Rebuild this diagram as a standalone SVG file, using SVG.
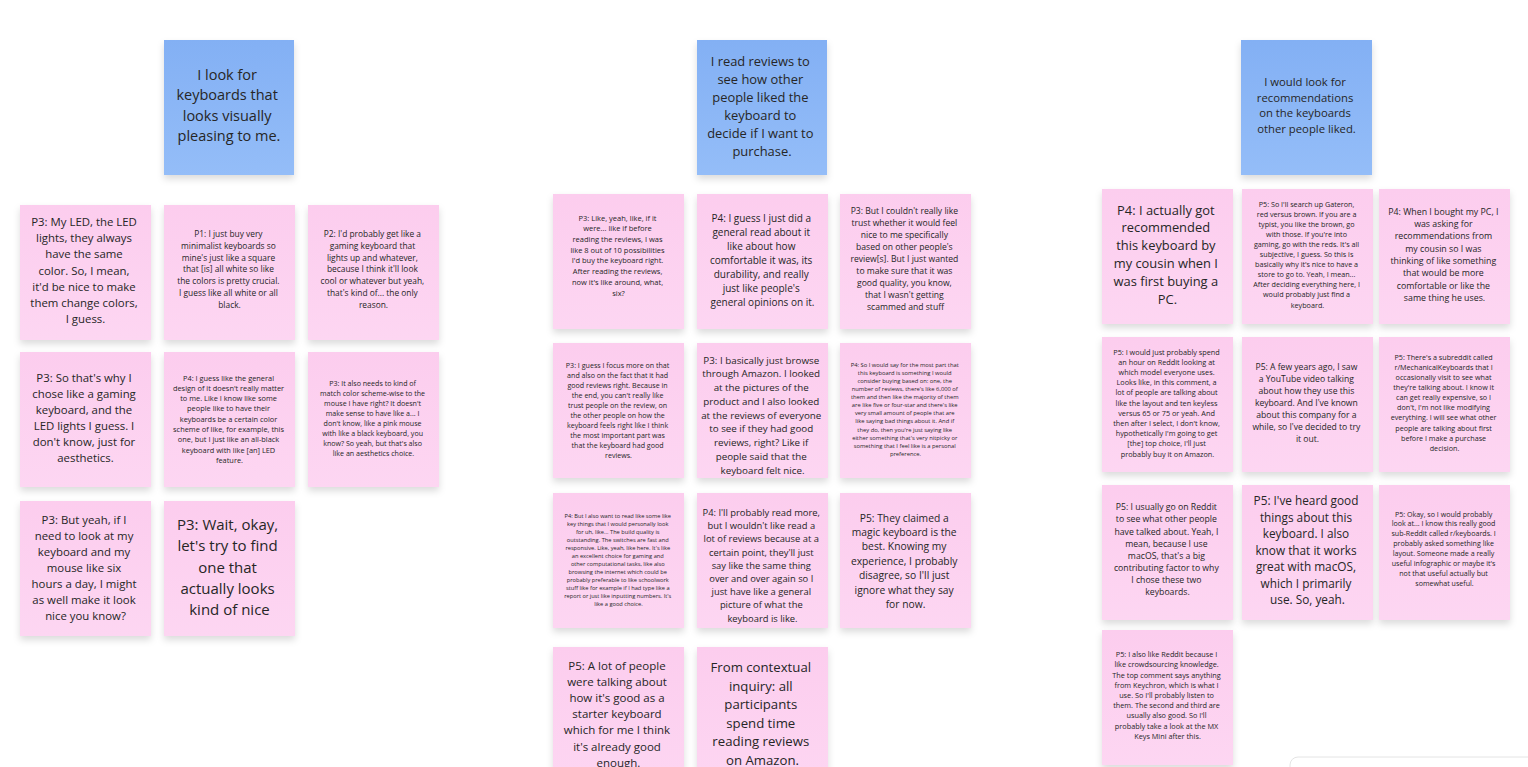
<svg xmlns="http://www.w3.org/2000/svg" width="1528" height="767" viewBox="0 0 1528 767">
  <defs>
    <linearGradient id="gBlue" x1="0" y1="0" x2="0" y2="1">
      <stop offset="0" stop-color="#83b0f4"/>
      <stop offset="1" stop-color="#94bdf8"/>
    </linearGradient>
    <linearGradient id="gPink" x1="0" y1="0" x2="0" y2="1">
      <stop offset="0" stop-color="#fccdee"/>
      <stop offset="1" stop-color="#fdd6f2"/>
    </linearGradient>
    <filter id="shadow" x="-20%" y="-20%" width="140%" height="150%">
      <feDropShadow dx="0" dy="4" stdDeviation="3.5" flood-color="#000" flood-opacity="0.14"/>
    </filter>
  </defs>
  <style>
    .blue { fill: url(#gBlue); filter: url(#shadow); }
    .pink { fill: url(#gPink); filter: url(#shadow); }
    text { font-family: "Open Sans", "Noto Sans", "Liberation Sans", sans-serif; fill: #262626; text-anchor: middle; }
  </style>

  <rect width="1528" height="767" fill="#ffffff"/>

  <!-- Theme 1: visual appearance -->
  <g id="theme-visual">
    <rect class="blue" x="164" y="40" width="130" height="135"/>
    <text x="229" y="80" font-size="14.5">
      <tspan x="229" dy="0">I look for</tspan>
      <tspan x="229" dy="20.3">keyboards that</tspan>
      <tspan x="229" dy="20.3">looks visually</tspan>
      <tspan x="229" dy="20.3">pleasing to me.</tspan>
    </text>
  </g>

  <g id="v-p3-led">
    <rect class="pink" x="20" y="205" width="131" height="135"/>
    <text x="85.5" y="226" font-size="11.4">
      <tspan x="85.5" dy="0">P3: My LED, the LED</tspan>
      <tspan x="85.5" dy="16.2">lights, they always</tspan>
      <tspan x="85.5" dy="16.2">have the same</tspan>
      <tspan x="85.5" dy="16.2">color. So, I mean,</tspan>
      <tspan x="85.5" dy="16.2">it'd be nice to make</tspan>
      <tspan x="85.5" dy="16.2">them change colors,</tspan>
      <tspan x="85.5" dy="16.2">I guess.</tspan>
    </text>
  </g>

  <g id="v-p1-minimal">
    <rect class="pink" x="164" y="205" width="131" height="135"/>
    <text x="229.5" y="237" font-size="8.4">
      <tspan x="229.5" dy="0">P1: I just buy very</tspan>
      <tspan x="229.5" dy="11.8">minimalist keyboards so</tspan>
      <tspan x="229.5" dy="11.8">mine's just like a square</tspan>
      <tspan x="229.5" dy="11.8">that [is] all white so like</tspan>
      <tspan x="229.5" dy="11.8">the colors is pretty crucial.</tspan>
      <tspan x="229.5" dy="11.8">I guess like all white or all</tspan>
      <tspan x="229.5" dy="11.8">black.</tspan>
    </text>
  </g>

  <g id="v-p2-gaming">
    <rect class="pink" x="308" y="205" width="131" height="135"/>
    <text x="373.5" y="237" font-size="8.4">
      <tspan x="373.5" dy="0">P2: I'd probably get like a</tspan>
      <tspan x="373.5" dy="11.8">gaming keyboard that</tspan>
      <tspan x="373.5" dy="11.8">lights up and whatever,</tspan>
      <tspan x="373.5" dy="11.8">because I think it'll look</tspan>
      <tspan x="373.5" dy="11.8">cool or whatever but yeah,</tspan>
      <tspan x="373.5" dy="11.8">that's kind of... the only</tspan>
      <tspan x="373.5" dy="11.8">reason.</tspan>
    </text>
  </g>

  <g id="v-p3-aesthetics">
    <rect class="pink" x="20" y="352" width="131" height="135"/>
    <text x="85.5" y="382" font-size="11.4">
      <tspan x="85.5" dy="0">P3: So that's why I</tspan>
      <tspan x="85.5" dy="16">chose like a gaming</tspan>
      <tspan x="85.5" dy="16">keyboard, and the</tspan>
      <tspan x="85.5" dy="16">LED lights I guess. I</tspan>
      <tspan x="85.5" dy="16">don't know, just for</tspan>
      <tspan x="85.5" dy="16">aesthetics.</tspan>
    </text>
  </g>

  <g id="v-p4-design">
    <rect class="pink" x="164" y="352" width="131" height="135"/>
    <text x="229.5" y="380.5" font-size="7.4">
      <tspan x="229.5" dy="0">P4: I guess like the general</tspan>
      <tspan x="229.5" dy="10.3">design of it doesn't really matter</tspan>
      <tspan x="229.5" dy="10.3">to me. Like I know like some</tspan>
      <tspan x="229.5" dy="10.3">people like to have their</tspan>
      <tspan x="229.5" dy="10.3">keyboards be a certain color</tspan>
      <tspan x="229.5" dy="10.3">scheme of like, for example, this</tspan>
      <tspan x="229.5" dy="10.3">one, but I just like an all-black</tspan>
      <tspan x="229.5" dy="10.3">keyboard with like [an] LED</tspan>
      <tspan x="229.5" dy="10.3">feature.</tspan>
    </text>
  </g>

  <g id="v-p3-match">
    <rect class="pink" x="308" y="352" width="131" height="135"/>
    <text x="373.5" y="386" font-size="7.1">
      <tspan x="373.5" dy="0">P3: It also needs to kind of</tspan>
      <tspan x="373.5" dy="10">match color scheme-wise to the</tspan>
      <tspan x="373.5" dy="10">mouse I have right? It doesn't</tspan>
      <tspan x="373.5" dy="10">make sense to have like a... I</tspan>
      <tspan x="373.5" dy="10">don't know, like a pink mouse</tspan>
      <tspan x="373.5" dy="10">with like a black keyboard, you</tspan>
      <tspan x="373.5" dy="10">know? So yeah, but that's also</tspan>
      <tspan x="373.5" dy="10">like an aesthetics choice.</tspan>
    </text>
  </g>

  <g id="v-p3-hours">
    <rect class="pink" x="20" y="501" width="131" height="135"/>
    <text x="85.5" y="524" font-size="11.4">
      <tspan x="85.5" dy="0">P3: But yeah, if I</tspan>
      <tspan x="85.5" dy="16">need to look at my</tspan>
      <tspan x="85.5" dy="16">keyboard and my</tspan>
      <tspan x="85.5" dy="16">mouse like six</tspan>
      <tspan x="85.5" dy="16">hours a day, I might</tspan>
      <tspan x="85.5" dy="16">as well make it look</tspan>
      <tspan x="85.5" dy="16">nice you know?</tspan>
    </text>
  </g>

  <g id="v-p3-nice">
    <rect class="pink" x="164" y="501" width="131" height="135"/>
    <text x="229.5" y="530" font-size="15">
      <tspan x="229.5" dy="0">P3: Wait, okay,</tspan>
      <tspan x="229.5" dy="21.3">let's try to find</tspan>
      <tspan x="229.5" dy="21.3">one that</tspan>
      <tspan x="229.5" dy="21.3">actually looks</tspan>
      <tspan x="229.5" dy="21.3">kind of nice</tspan>
    </text>
  </g>

  <!-- Theme 2: reviews -->
  <g id="theme-reviews">
    <rect class="blue" x="697" y="40" width="130" height="135"/>
    <text x="762" y="65.5" font-size="12.9">
      <tspan x="762" dy="0">I read reviews to</tspan>
      <tspan x="762" dy="18">see how other</tspan>
      <tspan x="762" dy="18">people liked the</tspan>
      <tspan x="762" dy="18">keyboard to</tspan>
      <tspan x="762" dy="18">decide if I want to</tspan>
      <tspan x="762" dy="18">purchase.</tspan>
    </text>
  </g>

  <g id="r-p3-possibilities">
    <rect class="pink" x="553" y="194" width="131" height="135"/>
    <text x="618.5" y="220.6" font-size="7.5">
      <tspan x="618.5" dy="0">P3: Like, yeah, like, if it</tspan>
      <tspan x="618.5" dy="10.7">were... like if before</tspan>
      <tspan x="618.5" dy="10.7">reading the reviews, I was</tspan>
      <tspan x="618.5" dy="10.7">like 8 out of 10 possibilities</tspan>
      <tspan x="618.5" dy="10.7">I'd buy the keyboard right.</tspan>
      <tspan x="618.5" dy="10.7">After reading the reviews,</tspan>
      <tspan x="618.5" dy="10.7">now it's like around, what,</tspan>
      <tspan x="618.5" dy="10.7">six?</tspan>
    </text>
  </g>

  <g id="r-p4-general">
    <rect class="pink" x="697" y="194" width="131" height="135"/>
    <text x="762.5" y="221.5" font-size="10">
      <tspan x="762.5" dy="0">P4: I guess I just did a</tspan>
      <tspan x="762.5" dy="14">general read about it</tspan>
      <tspan x="762.5" dy="14">like about how</tspan>
      <tspan x="762.5" dy="14">comfortable it was, its</tspan>
      <tspan x="762.5" dy="14">durability, and really</tspan>
      <tspan x="762.5" dy="14">just like people's</tspan>
      <tspan x="762.5" dy="14">general opinions on it.</tspan>
    </text>
  </g>

  <g id="r-p3-trust">
    <rect class="pink" x="840" y="194" width="131" height="135"/>
    <text x="905.5" y="214" font-size="8.6">
      <tspan x="905.5" dy="0">P3: But I couldn't really like</tspan>
      <tspan x="905.5" dy="12">trust whether it would feel</tspan>
      <tspan x="905.5" dy="12">nice to me specifically</tspan>
      <tspan x="905.5" dy="12">based on other people's</tspan>
      <tspan x="905.5" dy="12">review[s]. But I just wanted</tspan>
      <tspan x="905.5" dy="12">to make sure that it was</tspan>
      <tspan x="905.5" dy="12">good quality, you know,</tspan>
      <tspan x="905.5" dy="12">that I wasn't getting</tspan>
      <tspan x="905.5" dy="12">scammed and stuff</tspan>
    </text>
  </g>

  <g id="r-p3-focus">
    <rect class="pink" x="553" y="343" width="131" height="135"/>
    <text x="618.5" y="367.5" font-size="7.1">
      <tspan x="618.5" dy="0">P3: I guess I focus more on that</tspan>
      <tspan x="618.5" dy="10">and also on the fact that it had</tspan>
      <tspan x="618.5" dy="10">good reviews right. Because in</tspan>
      <tspan x="618.5" dy="10">the end, you can't really like</tspan>
      <tspan x="618.5" dy="10">trust people on the review, on</tspan>
      <tspan x="618.5" dy="10">the other people on how the</tspan>
      <tspan x="618.5" dy="10">keyboard feels right like I think</tspan>
      <tspan x="618.5" dy="10">the most important part was</tspan>
      <tspan x="618.5" dy="10">that the keyboard had good</tspan>
      <tspan x="618.5" dy="10">reviews.</tspan>
    </text>
  </g>

  <g id="r-p3-amazon">
    <rect class="pink" x="697" y="343" width="131" height="135"/>
    <text x="762.5" y="363.5" font-size="9.8">
      <tspan x="762.5" dy="0">P3: I basically just browse</tspan>
      <tspan x="762.5" dy="13.75">through Amazon. I looked</tspan>
      <tspan x="762.5" dy="13.75">at the pictures of the</tspan>
      <tspan x="762.5" dy="13.75">product and I also looked</tspan>
      <tspan x="762.5" dy="13.75">at the reviews of everyone</tspan>
      <tspan x="762.5" dy="13.75">to see if they had good</tspan>
      <tspan x="762.5" dy="13.75">reviews, right? Like if</tspan>
      <tspan x="762.5" dy="13.75">people said that the</tspan>
      <tspan x="762.5" dy="13.75">keyboard felt nice.</tspan>
    </text>
  </g>

  <g id="r-p4-count">
    <rect class="pink" x="840" y="343" width="131" height="135"/>
    <text x="905.5" y="366.7" font-size="5.8">
      <tspan x="905.5" dy="0">P4: So I would say for the most part that</tspan>
      <tspan x="905.5" dy="8.1">this keyboard is something I would</tspan>
      <tspan x="905.5" dy="8.1">consider buying based on: one, the</tspan>
      <tspan x="905.5" dy="8.1">number of reviews, there's like 6,000 of</tspan>
      <tspan x="905.5" dy="8.1">them and then like the majority of them</tspan>
      <tspan x="905.5" dy="8.1">are like five or four-star and there's like</tspan>
      <tspan x="905.5" dy="8.1">very small amount of people that are</tspan>
      <tspan x="905.5" dy="8.1">like saying bad things about it. And if</tspan>
      <tspan x="905.5" dy="8.1">they do, then you're just saying like</tspan>
      <tspan x="905.5" dy="8.1">either something that's very nitpicky or</tspan>
      <tspan x="905.5" dy="8.1">something that I feel like is a personal</tspan>
      <tspan x="905.5" dy="8.1">preference.</tspan>
    </text>
  </g>

  <g id="r-p4-key-things">
    <rect class="pink" x="553" y="493" width="131" height="135"/>
    <text x="618.5" y="518" font-size="5.7">
      <tspan x="618.5" dy="0">P4: But I also want to read like some like</tspan>
      <tspan x="618.5" dy="8">key things that I would personally look</tspan>
      <tspan x="618.5" dy="8">for uh, like... The build quality is</tspan>
      <tspan x="618.5" dy="8">outstanding. The switches are fast and</tspan>
      <tspan x="618.5" dy="8">responsive. Like, yeah, like here. It's like</tspan>
      <tspan x="618.5" dy="8">an excellent choice for gaming and</tspan>
      <tspan x="618.5" dy="8">other computational tasks, like also</tspan>
      <tspan x="618.5" dy="8">browsing the internet which could be</tspan>
      <tspan x="618.5" dy="8">probably preferable to like schoolwork</tspan>
      <tspan x="618.5" dy="8">stuff like for example if I had type like a</tspan>
      <tspan x="618.5" dy="8">report or just like inputting numbers. It's</tspan>
      <tspan x="618.5" dy="8">like a good choice.</tspan>
    </text>
  </g>

  <g id="r-p4-read-more">
    <rect class="pink" x="697" y="493" width="131" height="135"/>
    <text x="762.5" y="516" font-size="9.4">
      <tspan x="762.5" dy="0">P4: I'll probably read more,</tspan>
      <tspan x="762.5" dy="13.2">but I wouldn't like read a</tspan>
      <tspan x="762.5" dy="13.2">lot of reviews because at a</tspan>
      <tspan x="762.5" dy="13.2">certain point, they'll just</tspan>
      <tspan x="762.5" dy="13.2">say like the same thing</tspan>
      <tspan x="762.5" dy="13.2">over and over again so I</tspan>
      <tspan x="762.5" dy="13.2">just have like a general</tspan>
      <tspan x="762.5" dy="13.2">picture of what the</tspan>
      <tspan x="762.5" dy="13.2">keyboard is like.</tspan>
    </text>
  </g>

  <g id="r-p5-magic">
    <rect class="pink" x="840" y="493" width="131" height="135"/>
    <text x="905.5" y="521.6" font-size="10.3">
      <tspan x="905.5" dy="0">P5: They claimed a</tspan>
      <tspan x="905.5" dy="14.4">magic keyboard is the</tspan>
      <tspan x="905.5" dy="14.4">best. Knowing my</tspan>
      <tspan x="905.5" dy="14.4">experience, I probably</tspan>
      <tspan x="905.5" dy="14.4">disagree, so I'll just</tspan>
      <tspan x="905.5" dy="14.4">ignore what they say</tspan>
      <tspan x="905.5" dy="14.4">for now.</tspan>
    </text>
  </g>

  <g id="r-p5-starter">
    <rect class="pink" x="553" y="647" width="131" height="135"/>
    <text x="618.5" y="670" font-size="11.5">
      <tspan x="618.5" dy="0">P5: A lot of people</tspan>
      <tspan x="618.5" dy="16.1">were talking about</tspan>
      <tspan x="618.5" dy="16.1">how it's good as a</tspan>
      <tspan x="618.5" dy="16.1">starter keyboard</tspan>
      <tspan x="618.5" dy="16.1">which for me I think</tspan>
      <tspan x="618.5" dy="16.1">it's already good</tspan>
      <tspan x="618.5" dy="16.1">enough.</tspan>
    </text>
  </g>

  <g id="r-inquiry">
    <rect class="pink" x="697" y="647" width="131" height="135"/>
    <text x="762.5" y="672.3" font-size="13.2">
      <tspan x="762.5" dy="0">From contextual</tspan>
      <tspan x="762.5" dy="18.5">inquiry: all</tspan>
      <tspan x="762.5" dy="18.5">participants</tspan>
      <tspan x="762.5" dy="18.5">spend time</tspan>
      <tspan x="762.5" dy="18.5">reading reviews</tspan>
      <tspan x="762.5" dy="18.5">on Amazon.</tspan>
    </text>
  </g>

  <!-- Theme 3: recommendations -->
  <g id="theme-recommendations">
    <rect class="blue" x="1241" y="40" width="131" height="135"/>
    <text x="1306.5" y="86" font-size="11.3">
      <tspan x="1306.5" dy="0">I would look for</tspan>
      <tspan x="1306.5" dy="15.7">recommendations</tspan>
      <tspan x="1306.5" dy="15.7">on the keyboards</tspan>
      <tspan x="1306.5" dy="15.7">other people liked.</tspan>
    </text>
  </g>

  <g id="c-p4-cousin">
    <rect class="pink" x="1102" y="189" width="131" height="135"/>
    <text x="1167.5" y="214.5" font-size="12.9">
      <tspan x="1167.5" dy="0">P4: I actually got</tspan>
      <tspan x="1167.5" dy="17.8">recommended</tspan>
      <tspan x="1167.5" dy="17.8">this keyboard by</tspan>
      <tspan x="1167.5" dy="17.8">my cousin when I</tspan>
      <tspan x="1167.5" dy="17.8">was first buying a</tspan>
      <tspan x="1167.5" dy="17.8">PC.</tspan>
    </text>
  </g>

  <g id="c-p5-gateron">
    <rect class="pink" x="1242" y="189" width="131" height="135"/>
    <text x="1307.5" y="206.5" font-size="7.2">
      <tspan x="1307.5" dy="0">P5: So I'll search up Gateron,</tspan>
      <tspan x="1307.5" dy="10.1">red versus brown. If you are a</tspan>
      <tspan x="1307.5" dy="10.1">typist, you like the brown, go</tspan>
      <tspan x="1307.5" dy="10.1">with those. If you're into</tspan>
      <tspan x="1307.5" dy="10.1">gaming, go with the reds. It's all</tspan>
      <tspan x="1307.5" dy="10.1">subjective, I guess. So this is</tspan>
      <tspan x="1307.5" dy="10.1">basically why it's nice to have a</tspan>
      <tspan x="1307.5" dy="10.1">store to go to. Yeah, I mean...</tspan>
      <tspan x="1307.5" dy="10.1">After deciding everything here, I</tspan>
      <tspan x="1307.5" dy="10.1">would probably just find a</tspan>
      <tspan x="1307.5" dy="10.1">keyboard.</tspan>
    </text>
  </g>

  <g id="c-p4-bought-pc">
    <rect class="pink" x="1379" y="189" width="131" height="135"/>
    <text x="1444.5" y="214.8" font-size="8.8">
      <tspan x="1444.5" dy="0">P4: When I bought my PC, I</tspan>
      <tspan x="1444.5" dy="12.3">was asking for</tspan>
      <tspan x="1444.5" dy="12.3">recommendations from</tspan>
      <tspan x="1444.5" dy="12.3">my cousin so I was</tspan>
      <tspan x="1444.5" dy="12.3">thinking of like something</tspan>
      <tspan x="1444.5" dy="12.3">that would be more</tspan>
      <tspan x="1444.5" dy="12.3">comfortable or like the</tspan>
      <tspan x="1444.5" dy="12.3">same thing he uses.</tspan>
    </text>
  </g>

  <g id="c-p5-reddit-hour">
    <rect class="pink" x="1102" y="337" width="131" height="135"/>
    <text x="1167.5" y="354.6" font-size="7.3">
      <tspan x="1167.5" dy="0">P5: I would just probably spend</tspan>
      <tspan x="1167.5" dy="10.2">an hour on Reddit looking at</tspan>
      <tspan x="1167.5" dy="10.2">which model everyone uses.</tspan>
      <tspan x="1167.5" dy="10.2">Looks like, in this comment, a</tspan>
      <tspan x="1167.5" dy="10.2">lot of people are talking about</tspan>
      <tspan x="1167.5" dy="10.2">like the layout and ten keyless</tspan>
      <tspan x="1167.5" dy="10.2">versus 65 or 75 or yeah. And</tspan>
      <tspan x="1167.5" dy="10.2">then after I select, I don't know,</tspan>
      <tspan x="1167.5" dy="10.2">hypothetically I'm going to get</tspan>
      <tspan x="1167.5" dy="10.2">[the] top choice, I'll just</tspan>
      <tspan x="1167.5" dy="10.2">probably buy it on Amazon.</tspan>
    </text>
  </g>

  <g id="c-p5-youtube">
    <rect class="pink" x="1242" y="337" width="131" height="135"/>
    <text x="1307.5" y="369.7" font-size="8.6">
      <tspan x="1307.5" dy="0">P5: A few years ago, I saw</tspan>
      <tspan x="1307.5" dy="12">a YouTube video talking</tspan>
      <tspan x="1307.5" dy="12">about how they use this</tspan>
      <tspan x="1307.5" dy="12">keyboard. And I've known</tspan>
      <tspan x="1307.5" dy="12">about this company for a</tspan>
      <tspan x="1307.5" dy="12">while, so I've decided to try</tspan>
      <tspan x="1307.5" dy="12">it out.</tspan>
    </text>
  </g>

  <g id="c-p5-subreddit">
    <rect class="pink" x="1379" y="337" width="131" height="135"/>
    <text x="1444.5" y="359.5" font-size="7.2">
      <tspan x="1444.5" dy="0">P5: There's a subreddit called</tspan>
      <tspan x="1444.5" dy="10.15">r/MechanicalKeyboards that I</tspan>
      <tspan x="1444.5" dy="10.15">occasionally visit to see what</tspan>
      <tspan x="1444.5" dy="10.15">they're talking about. I know it</tspan>
      <tspan x="1444.5" dy="10.15">can get really expensive, so I</tspan>
      <tspan x="1444.5" dy="10.15">don't, I'm not like modifying</tspan>
      <tspan x="1444.5" dy="10.15">everything. I will see what other</tspan>
      <tspan x="1444.5" dy="10.15">people are talking about first</tspan>
      <tspan x="1444.5" dy="10.15">before I make a purchase</tspan>
      <tspan x="1444.5" dy="10.15">decision.</tspan>
    </text>
  </g>

  <g id="c-p5-macos-reddit">
    <rect class="pink" x="1102" y="485" width="131" height="135"/>
    <text x="1167.5" y="510.3" font-size="8.7">
      <tspan x="1167.5" dy="0">P5: I usually go on Reddit</tspan>
      <tspan x="1167.5" dy="12.1">to see what other people</tspan>
      <tspan x="1167.5" dy="12.1">have talked about. Yeah, I</tspan>
      <tspan x="1167.5" dy="12.1">mean, because I use</tspan>
      <tspan x="1167.5" dy="12.1">macOS, that's a big</tspan>
      <tspan x="1167.5" dy="12.1">contributing factor to why</tspan>
      <tspan x="1167.5" dy="12.1">I chose these two</tspan>
      <tspan x="1167.5" dy="12.1">keyboards.</tspan>
    </text>
  </g>

  <g id="c-p5-heard-good">
    <rect class="pink" x="1242" y="485" width="131" height="135"/>
    <text x="1307.5" y="505.4" font-size="11.8">
      <tspan x="1307.5" dy="0">P5: I've heard good</tspan>
      <tspan x="1307.5" dy="16.45">things about this</tspan>
      <tspan x="1307.5" dy="16.45">keyboard. I also</tspan>
      <tspan x="1307.5" dy="16.45">know that it works</tspan>
      <tspan x="1307.5" dy="16.45">great with macOS,</tspan>
      <tspan x="1307.5" dy="16.45">which I primarily</tspan>
      <tspan x="1307.5" dy="16.45">use. So, yeah.</tspan>
    </text>
  </g>

  <g id="c-p5-infographic">
    <rect class="pink" x="1379" y="485" width="131" height="135"/>
    <text x="1444.5" y="516.5" font-size="7.1">
      <tspan x="1444.5" dy="0">P5: Okay, so I would probably</tspan>
      <tspan x="1444.5" dy="9.9">look at...  I know this really good</tspan>
      <tspan x="1444.5" dy="9.9">sub-Reddit called r/keyboards. I</tspan>
      <tspan x="1444.5" dy="9.9">probably asked something like</tspan>
      <tspan x="1444.5" dy="9.9">layout. Someone made a really</tspan>
      <tspan x="1444.5" dy="9.9">useful infographic or maybe it's</tspan>
      <tspan x="1444.5" dy="9.9">not that useful actually but</tspan>
      <tspan x="1444.5" dy="9.9">somewhat useful.</tspan>
    </text>
  </g>

  <g id="c-p5-keychron">
    <rect class="pink" x="1102" y="630" width="131" height="135"/>
    <text x="1167.5" y="657.2" font-size="7.3">
      <tspan x="1167.5" dy="0">P5: I also like Reddit because I</tspan>
      <tspan x="1167.5" dy="10.2">like crowdsourcing knowledge.</tspan>
      <tspan x="1167.5" dy="10.2">The top comment says anything</tspan>
      <tspan x="1167.5" dy="10.2">from Keychron, which is what I</tspan>
      <tspan x="1167.5" dy="10.2">use. So I'll probably listen to</tspan>
      <tspan x="1167.5" dy="10.2">them. The second and third are</tspan>
      <tspan x="1167.5" dy="10.2">usually also good. So I'll</tspan>
      <tspan x="1167.5" dy="10.2">probably take a look at the MX</tspan>
      <tspan x="1167.5" dy="10.2">Keys Mini after this.</tspan>
    </text>
  </g>

  <!-- board toolbar edge, bottom right -->
  <rect x="1290" y="757" width="260" height="40" rx="8" fill="#ffffff" stroke="#e4e4e4" stroke-width="1"/>
</svg>
